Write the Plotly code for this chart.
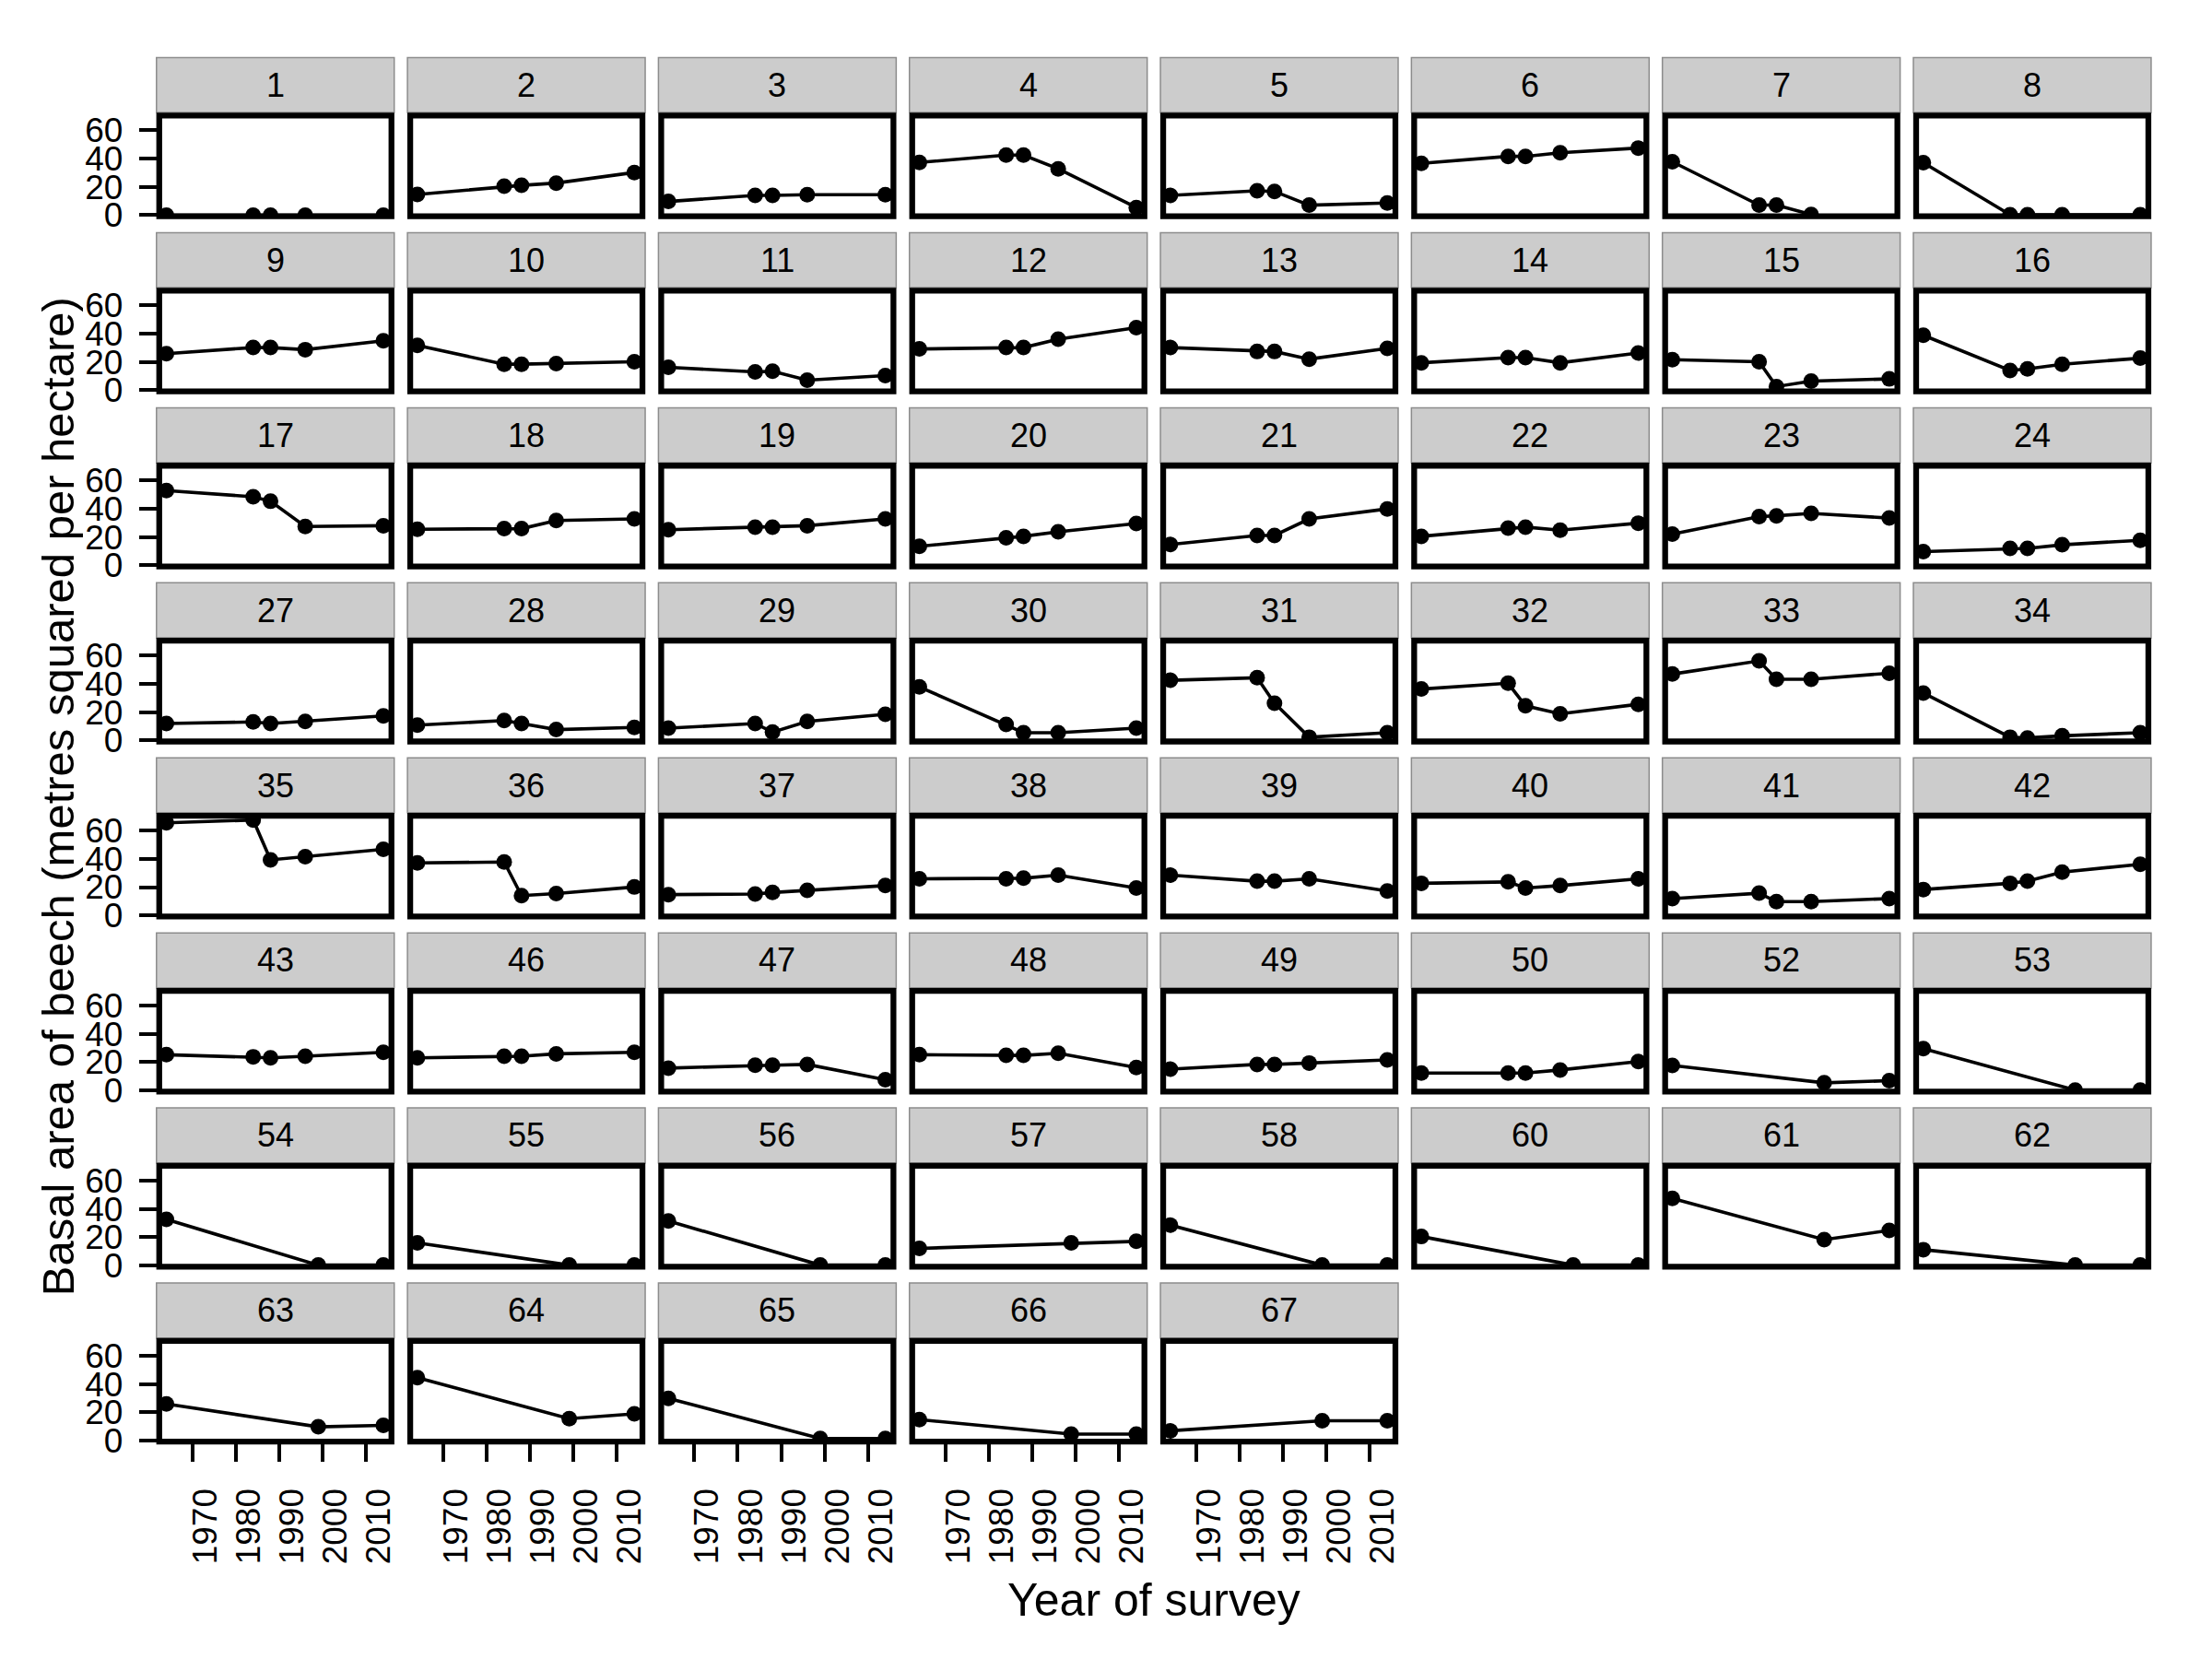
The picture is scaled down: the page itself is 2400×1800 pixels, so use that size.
import plotly.graph_objects as go

# ---------------- data ----------------
survey_years_long = [1964, 1984, 1988, 1996, 2014]
survey_years_short = [1964, 1999, 2014]
x_tick_vals = [1970, 1980, 1990, 2000, 2010]
y_tick_vals = [0, 20, 40, 60]

plots_row1 = [1, 2, 3, 4, 5, 6, 7, 8]
basal_row1 = [
    [0, 0, 0, 0, 0],
    [14.7, 20.5, 21.1, 22.7, 30.2],
    [9.7, 14.0, 14.0, 14.5, 14.5],
    [37.3, 42.5, 42.5, 32.8, 5.4],
    [14.0, 17.3, 16.8, 7.1, 8.6],
    [36.7, 41.6, 41.6, 44.2, 47.5],
    [37.8, 7.1, 7.1, 0.5, None],
    [37.1, 0.3, 0.3, 0.3, 0.3],
]
plots_row2 = [9, 10, 11, 12, 13, 14, 15, 16]
basal_row2 = [
    [25.9, 30.2, 30.2, 28.7, 35.0],
    [31.7, 18.4, 18.4, 18.8, 20.1],
    [16.2, 13.0, 13.4, 7.1, 10.4],
    [29.2, 30.2, 30.2, 36.1, 44.3],
    [30.2, 27.4, 27.4, 22.0, 29.6],
    [19.4, 23.1, 23.1, 19.4, 26.3],
    [21.6, 20.1, 2.6, 6.5, 8.0],
    [38.9, 14.0, 15.1, 18.4, 22.7],
]
plots_row3 = [17, 18, 19, 20, 21, 22, 23, 24]
basal_row3 = [
    [52.9, 48.5, 45.3, 27.4, 28.0],
    [25.5, 25.9, 25.9, 31.7, 32.8],
    [25.2, 27.0, 27.0, 28.0, 32.8],
    [13.4, 19.4, 20.5, 23.7, 29.6],
    [14.7, 21.1, 21.1, 32.8, 39.9],
    [20.5, 26.3, 27.0, 24.8, 29.8],
    [22.0, 34.5, 35.0, 36.7, 33.4],
    [9.7, 11.9, 11.9, 14.5, 17.7],
]
plots_row4 = [27, 28, 29, 30, 31, 32, 33, 34]
basal_row4 = [
    [11.9, 13.0, 11.9, 13.4, 17.3],
    [10.8, 14.0, 11.9, 7.6, 9.1],
    [8.6, 11.9, 5.8, 13.4, 18.4],
    [37.8, 11.2, 5.4, 5.4, 8.6],
    [42.5, 44.3, 26.3, 2.2, 5.4],
    [36.3, 40.4, 24.4, 18.8, 25.5],
    [46.9, 56.2, 43.2, 43.2, 47.5],
    [33.5, 2.2, 1.7, 3.2, 5.4],
]
plots_row5 = [35, 36, 37, 38, 39, 40, 41, 42]
basal_row5 = [
    [65.5, 67.5, 39.3, 41.6, 46.8],
    [37.1, 37.8, 14.0, 15.5, 20.1],
    [14.7, 15.1, 16.2, 17.7, 21.1],
    [25.9, 25.9, 26.3, 28.5, 19.4],
    [28.5, 24.2, 24.2, 25.9, 17.3],
    [22.7, 23.7, 19.4, 21.1, 25.9],
    [11.9, 15.7, 9.7, 9.7, 11.9],
    [18.3, 22.7, 24.2, 30.6, 36.2],
]
plots_row6 = [43, 46, 47, 48, 49, 50, 52, 53]
basal_row6 = [
    [25.3, 23.8, 23.1, 24.2, 27.0],
    [23.1, 24.2, 24.2, 25.9, 27.0],
    [15.8, 17.9, 17.9, 18.4, 7.6],
    [25.3, 24.8, 24.8, 26.3, 16.2],
    [15.1, 18.4, 18.4, 19.4, 21.6],
    [12.3, 12.3, 12.3, 14.5, 20.5],
    [17.7, 5.4, 6.9],
    [29.6, 0.3, 0.3],
]
plots_row7 = [54, 55, 56, 57, 58, 60, 61, 62]
basal_row7 = [
    [32.6, 0.3, 0.3],
    [16.0, 0.3, 0.3],
    [31.5, 0.3, 0.3],
    [12.1, 16.0, 17.1],
    [28.5, 0.3, 0.3],
    [20.5, 0.3, 0.3],
    [47.5, 18.3, 24.8],
    [11.2, 0.3, 0.3],
]
plots_row8 = [63, 64, 65, 66, 67]
basal_row8 = [
    [25.9, 9.7, 10.8],
    [44.5, 15.5, 18.9],
    [29.9, 1.5, 1.5],
    [14.8, 4.6, 4.6],
    [6.9, 14.0, 14.0],
]

rows_plots = [plots_row1, plots_row2, plots_row3, plots_row4,
              plots_row5, plots_row6, plots_row7, plots_row8]
rows_basal = [basal_row1, basal_row2, basal_row3, basal_row4,
              basal_row5, basal_row6, basal_row7, basal_row8]

# ---------------- layout geometry (px) ----------------
W, H = 2400, 1800
COL_LEFT0, COL_PITCH, PANEL_W = 173.2, 273.0, 252.6
ROW_TOP0, ROW_PITCH, PANEL_H = 123.0, 192.5, 110.8
STRIP_H, STRIP_GAP = 60.4, 3.3
FONT = "Liberation Sans, Arial, sans-serif"
X_RANGE = [1962.35, 2015.87]
Y_RANGE = [-0.8, 70.5]

def px_x(v):
    return v / W

def px_y(v):
    return 1 - v / H

n_rows = len(rows_plots)

fig = go.Figure()
shapes = []
annotations = []
layout_axes = {}

k = 0
for r, (plot_ids, basal) in enumerate(zip(rows_plots, rows_basal)):
    for c, (pid, vals) in enumerate(zip(plot_ids, basal)):
        k += 1
        xname = "x" if k == 1 else f"x{k}"
        yname = "y" if k == 1 else f"y{k}"
        xkey = "xaxis" if k == 1 else f"xaxis{k}"
        ykey = "yaxis" if k == 1 else f"yaxis{k}"

        x0 = COL_LEFT0 + c * COL_PITCH
        x1 = x0 + PANEL_W
        y0 = ROW_TOP0 + r * ROW_PITCH
        y1 = y0 + PANEL_H

        years = survey_years_long if len(vals) == 5 else survey_years_short
        fig.add_trace(go.Scatter(
            x=years, y=vals, xaxis=xname, yaxis=yname,
            mode="lines+markers",
            line=dict(color="black", width=3.6),
            marker=dict(color="black", size=17),
            connectgaps=False, showlegend=False, hoverinfo="skip",
        ))

        bottom_panel = (r == n_rows - 1)
        left_panel = (c == 0)

        layout_axes[xkey] = dict(
            domain=[px_x(x0), px_x(x1)], anchor=yname, range=X_RANGE,
            showgrid=False, zeroline=False, showline=False,
            tickvals=x_tick_vals if bottom_panel else [],
            ticks="outside" if bottom_panel else "",
            ticklen=21, tickwidth=4, tickcolor="black",
            showticklabels=bottom_panel, tickangle=-90,
            ticklabelstandoff=14, ticklabelshift=14,
            tickfont=dict(family=FONT, size=37, color="black"),
        )
        layout_axes[ykey] = dict(
            domain=[px_y(y1), px_y(y0)], anchor=xname, range=Y_RANGE,
            showgrid=False, zeroline=False, showline=False,
            tickvals=y_tick_vals if left_panel else [],
            ticks="outside" if left_panel else "",
            ticklen=21, tickwidth=4, tickcolor="black",
            showticklabels=left_panel, ticklabelstandoff=10,
            tickfont=dict(family=FONT, size=37, color="black"),
        )

        # strip
        sx0, sx1 = x0 - 3, x1 + 3
        sy1 = y0 - STRIP_GAP
        sy0 = sy1 - STRIP_H
        shapes.append(dict(
            type="rect", xref="paper", yref="paper",
            x0=px_x(sx0), x1=px_x(sx1), y0=px_y(sy1), y1=px_y(sy0),
            fillcolor="#CCCCCC", line=dict(color="#8C8C8C", width=1.5),
            layer="below",
        ))
        annotations.append(dict(
            text=str(pid), xref="paper", yref="paper",
            x=px_x((sx0 + sx1) / 2), y=px_y((sy0 + sy1) / 2),
            xanchor="center", yanchor="middle", showarrow=False,
            font=dict(family=FONT, size=36, color="black"),
        ))
        # panel border
        shapes.append(dict(
            type="rect", xref="paper", yref="paper",
            x0=px_x(x0), x1=px_x(x1), y0=px_y(y1), y1=px_y(y0),
            line=dict(color="black", width=6.3), fillcolor="rgba(0,0,0,0)",
            layer="above",
        ))

annotations.append(dict(
    text="Year of survey", xref="paper", yref="paper",
    x=px_x(1255), y=px_y(1755), xanchor="center", yanchor="middle",
    showarrow=False, font=dict(family=FONT, size=50, color="black"),
))
annotations.append(dict(
    text="Basal area of beech (metres squared per hectare)",
    xref="paper", yref="paper", x=px_x(64), y=px_y(872),
    xanchor="center", yanchor="middle", textangle=-90,
    showarrow=False, font=dict(family=FONT, size=49, color="black"),
))

fig.update_layout(
    width=W, height=H, margin=dict(l=0, r=0, t=0, b=0),
    paper_bgcolor="white", plot_bgcolor="white",
    shapes=shapes, annotations=annotations, showlegend=False,
    **layout_axes,
)

fig.write_html("out.html")
